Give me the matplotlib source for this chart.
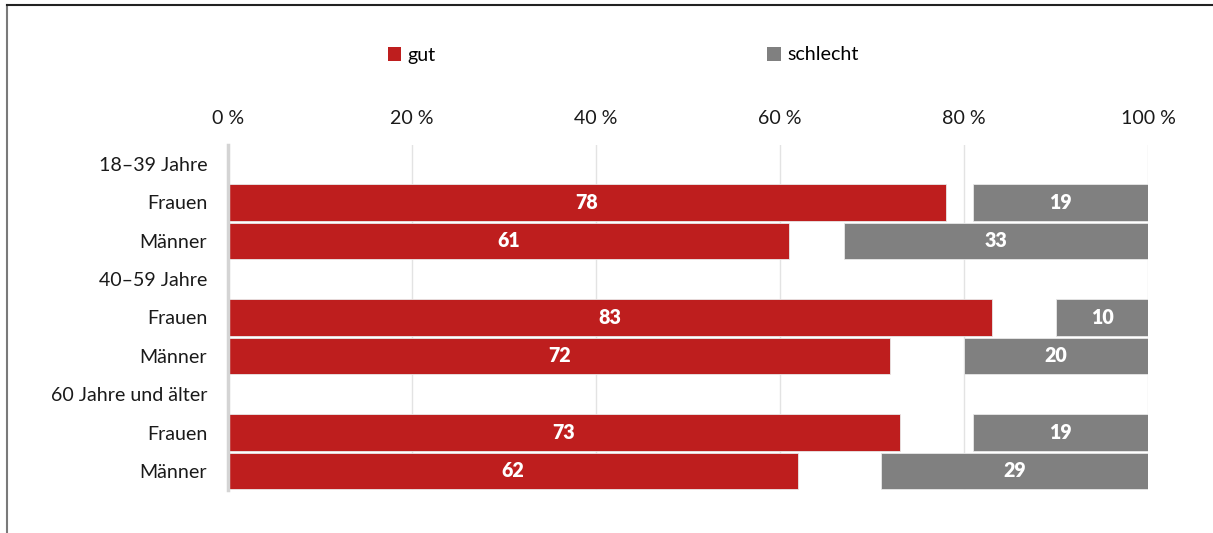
import matplotlib
matplotlib.use("Agg")
import matplotlib.pyplot as plt
from matplotlib.lines import Line2D
from matplotlib.patches import Patch

plt.rcParams['font.family'] = ['Lato', 'DejaVu Sans']

row_labels = ["18–39 Jahre", "Frauen", "Männer", "40–59 Jahre", "Frauen", "Männer",
              "60 Jahre und älter", "Frauen", "Männer"]
bar_rows = [1, 2, 4, 5, 7, 8]
gut = [78, 61, 83, 72, 73, 62]
schlecht = [19, 33, 10, 20, 19, 29]
xticks = [0, 20, 40, 60, 80, 100]
xtick_labels = ["0 %", "20 %", "40 %", "60 %", "80 %", "100 %"]

red = "#be1e1e"
gray = "#808080"
fs = 14.1

W, H = 1213, 533
fig = plt.figure(figsize=(W / 100, H / 100), dpi=100)
ax = fig.add_axes([228 / W, (H - 490) / H, (1148 - 228) / W, (490 - 145) / H])

h = 0.94
ax.barh(bar_rows, gut, height=h, color=red, edgecolor="#e8e8e8", linewidth=0.6, zorder=3)
left_s = [100 - s for s in schlecht]
ax.barh(bar_rows, schlecht, left=left_s, height=h, color=gray, edgecolor="#e8e8e8", linewidth=0.6, zorder=3)

for r, g in zip(bar_rows, gut):
    ax.text(g / 2, r, str(g), ha="center", va="center", color="white",
            fontsize=fs, fontweight="heavy", zorder=4)
for r, s, l in zip(bar_rows, schlecht, left_s):
    ax.text(l + s / 2, r, str(s), ha="center", va="center", color="white",
            fontsize=fs, fontweight="heavy", zorder=4)

ax.set_xlim(0, 100)
ax.set_ylim(8.5, -0.5)
ax.set_yticks(range(len(row_labels)))
ax.set_yticklabels(row_labels, fontsize=fs, color="#1a1a1a")
ax.set_xticks(xticks)
ax.set_xticklabels(xtick_labels, fontsize=fs, color="#1a1a1a")
ax.xaxis.tick_top()
ax.tick_params(axis="both", length=0)
ax.tick_params(axis="x", pad=13)
ax.tick_params(axis="y", pad=15)
ax.grid(axis="x", color="#e3e3e3", linewidth=1, zorder=0)
for sp in ["top", "right", "bottom"]:
    ax.spines[sp].set_visible(False)
ax.spines["left"].set_color("#d4d4d4")
ax.spines["left"].set_linewidth(2.5)
ax.spines["left"].set_zorder(5)

handles = [Patch(facecolor=red), Patch(facecolor=gray)]
fig.legend(handles, ["gut", "schlecht"], loc="center", bbox_to_anchor=(623 / W, 1 - 55 / H),
           ncol=2, frameon=False, fontsize=fs, handlelength=0.7, handleheight=0.7,
           handletextpad=0.3, columnspacing=16.95)

fig.add_artist(Line2D([7 / W, 7 / W], [0, 1 - 5 / H], transform=fig.transFigure,
                      color="#7a7a7a", linewidth=1.5))
fig.add_artist(Line2D([7 / W, 1], [1 - 5 / H, 1 - 5 / H], transform=fig.transFigure,
                      color="#222222", linewidth=1.5))

fig.savefig("out.png", dpi=100)
